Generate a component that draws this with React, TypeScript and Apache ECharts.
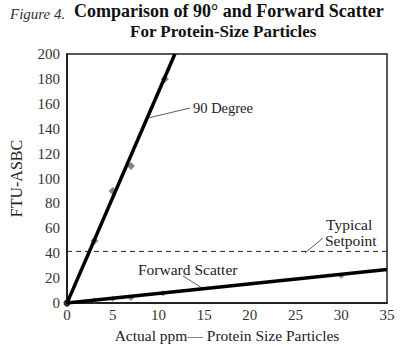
import React, { useEffect, useRef } from "react";
import * as echarts from "echarts";

const xTicks = [0, 5, 10, 15, 20, 25, 30, 35];
const yTicks = [0, 20, 40, 60, 80, 100, 120, 140, 160, 180, 200];
const deg90Points: number[][] = [[0, 0], [3, 50], [5, 90], [7, 110], [10.7, 180]];
const deg90Line: number[][] = [[0, 0], [11.8, 200]];
const fwdPoints: number[][] = [[0, 0], [3, 2], [5, 3.5], [7, 4], [10.5, 8], [30, 22]];
const fwdLine: number[][] = [[0, 0], [35, 27]];
const setpoint = 41.5;
const setpointLine: number[][] = [[0, setpoint], [35, setpoint]];

const FONT = "'Liberation Serif', 'DejaVu Serif', serif";

export default function App() {
  const ref = useRef<HTMLDivElement>(null);
  useEffect(() => {
    const chart = echarts.init(ref.current!, null, { renderer: "svg" });
    chart.setOption({
      animation: false,
      backgroundColor: "#fff",
      textStyle: { fontFamily: FONT },
      grid: { left: 65, right: 13, top: 54, bottom: 44, show: true, borderColor: "#222", borderWidth: 1.5 },
      xAxis: {
        type: "value", min: xTicks[0], max: xTicks[xTicks.length - 1], interval: 5,
        name: "Actual ppm\u2014 Protein Size Particles", nameLocation: "middle", nameGap: 22,
        nameTextStyle: { fontFamily: FONT, fontSize: 15.5, color: "#222" },
        axisLine: { lineStyle: { color: "#111", width: 1.5 } },
        axisTick: { show: false },
        splitLine: { show: false },
        axisLabel: { fontFamily: FONT, fontSize: 15, color: "#333", margin: 4 },
      },
      yAxis: {
        type: "value", min: yTicks[0], max: yTicks[yTicks.length - 1], interval: 20,
        name: "FTU-ASBC", nameLocation: "middle", nameGap: 43,
        nameTextStyle: { fontFamily: FONT, fontSize: 16, color: "#222" },
        axisLine: { show: true, lineStyle: { color: "#111", width: 1.5 } },
        axisTick: { show: false },
        splitLine: { show: false },
        axisLabel: { fontFamily: FONT, fontSize: 15, color: "#333", margin: 7 },
      },
      series: [
        { type: "line", data: setpointLine, symbol: "none", lineStyle: { color: "#222", width: 1, type: [5, 4] } },
        { type: "line", data: deg90Line, symbol: "none", lineStyle: { color: "#000", width: 3.5 } },
        { type: "line", data: fwdLine, symbol: "none", lineStyle: { color: "#000", width: 3.5 } },
        { type: "scatter", data: deg90Points.slice(1), symbol: "diamond", symbolSize: 8, itemStyle: { color: "#666" } },
        { type: "scatter", data: fwdPoints.slice(1), symbol: "diamond", symbolSize: 6, itemStyle: { color: "#666" } },
        { type: "scatter", data: [deg90Points[0]], symbol: "circle", symbolSize: 7, itemStyle: { color: "#000" } },
      ],
      graphic: [
        { type: "text", left: 10, top: 6, style: { text: "Figure 4.", font: `italic 15px ${FONT}`, fill: "#333" } },
        { type: "text", left: 74, top: 2, style: { text: "Comparison of 90\u00b0 and Forward Scatter", font: `bold 18px ${FONT}`, fill: "#111" } },
        { type: "text", left: 130, top: 23, style: { text: "For Protein-Size Particles", font: `bold 17px ${FONT}`, fill: "#111" } },
        { type: "line", shape: { x1: 148, y1: 118, x2: 190, y2: 108 }, style: { stroke: "#333", lineWidth: 0.8 } },
        { type: "text", left: 193, top: 100, style: { text: "90 Degree", font: `14.5px ${FONT}`, fill: "#222" } },
        { type: "line", shape: { x1: 305, y1: 253, x2: 323, y2: 238 }, style: { stroke: "#333", lineWidth: 0.8 } },
        { type: "text", left: 326, top: 216, style: { text: "Typical", font: `15.5px ${FONT}`, fill: "#222" } },
        { type: "text", left: 325, top: 232, style: { text: "Setpoint", font: `15.5px ${FONT}`, fill: "#222" } },
        { type: "line", shape: { x1: 183, y1: 276, x2: 202, y2: 288 }, style: { stroke: "#333", lineWidth: 0.8 } },
        { type: "text", left: 138, top: 261, style: { text: "Forward Scatter", font: `15.5px ${FONT}`, fill: "#222" } },
      ],
    });
    return () => chart.dispose();
  }, []);
  return <div ref={ref} style={{ width: 400, height: 348, position: "absolute", left: 0, top: 0 }} />;
}
